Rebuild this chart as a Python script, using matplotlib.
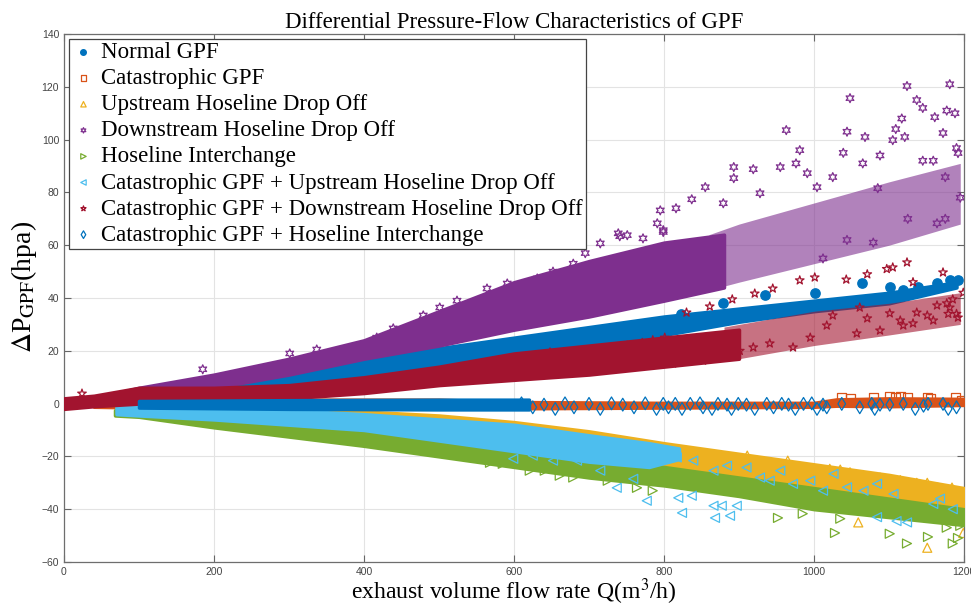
import numpy as np
import matplotlib.pyplot as plt

# Serif text like the MATLAB export (Times-style), mathtext to match
plt.rcParams['font.family'] = ['Liberation Serif', 'DejaVu Serif']
plt.rcParams['mathtext.fontset'] = 'stix'

# --- DATA ---
# dense cores are given as envelopes (x, upper, lower), the looser clouds
# at the right end as a second envelope, sparse markers as single points

# Normal GPF
normal_band_x = [40, 100, 200, 300, 400, 500, 600, 700, 800, 900, 1000, 1100, 1190]
normal_band_hi = [2, 5, 9, 13, 17, 21, 25, 29, 33, 36, 39, 42, 46]
normal_band_lo = [0, 2, 5, 8, 11, 14, 18, 22, 26, 31, 35, 38, 44]
normal_pts_x = [823, 879, 935, 1001, 1064, 1101, 1119, 1139, 1164, 1181, 1192]
normal_pts_y = [34, 38, 41, 42, 45.5, 44, 43, 44, 45.5, 46.7, 47]

# Catastrophic GPF
cat_band_x = [40, 100, 300, 500, 600, 800, 1000, 1030, 1100, 1200]
cat_band_hi = [0.3, 0.8, 1.5, 1.5, 0.6, 0.3, 0.3, 1.6, 2.0, 1.8]
cat_band_lo = [-1.2, -1.5, -0.5, -1.0, -1.8, -1.5, -1.2, -0.8, -1.0, -0.5]
cat_pts_x = [1037, 1048, 1079, 1101, 1108, 1115, 1124, 1151, 1155, 1188, 1196]
cat_pts_y = [2.2, 1.9, 2.4, 2.6, 2.4, 2.6, 2.2, 2.4, 1.9, 2.4, 1.0]

# Upstream Hoseline Drop Off
up_band_x = [70, 100, 200, 300, 400, 500, 600, 700, 800, 900, 1000, 1100, 1200]
up_band_hi = [-1.5, -2, -2, -2.5, -3, -4.5, -7, -10.5, -15, -19, -23, -27, -32]
up_band_lo = [-3, -3, -4, -6, -9, -12, -15, -19, -23, -28, -33, -38, -42]
up_pts_x = [911, 937, 965, 985, 1021, 1035, 1048, 1088, 1101, 1115, 1137, 1141,
            1151, 1165, 1168, 1184, 1192, 1199, 1059, 1151, 1199]
up_pts_y = [-19.7, -22.4, -21.6, -24.2, -24.7, -25, -26, -28, -29, -29, -30, -33,
            -30, -31.8, -35.6, -31.8, -37.5, -34, -45, -54.6, -49]

# Downstream Hoseline Drop Off
down_band_x = [40, 100, 200, 300, 400, 500, 600, 700, 800, 880]
down_band_hi = [2, 6, 11, 17, 24, 35, 46, 54, 61, 64]
down_band_lo = [0, 3, 6, 11, 17, 22, 28, 33, 39, 44]
down_cloud_x = [860, 900, 1000, 1100, 1195]
down_cloud_hi = [64, 68, 76, 84, 91]
down_cloud_lo = [43, 46, 53, 60, 68]
down_pts_x = [1124, 1181, 1048, 1137, 963, 1044, 1068, 1121, 1145, 1161, 1177, 1188,
              981, 893, 893, 919, 855, 837, 816, 955, 976, 991, 1039, 1105, 1117,
              1109, 1190, 1192, 1172, 1065, 1088, 1085, 1145, 1159, 1175, 1195,
              1025, 1004, 928, 879, 799, 1164, 1175, 1012, 1079, 1125, 1044,
              795, 791, 739, 751, 772, 799, 695, 652, 591, 564, 524, 501, 479,
              439, 417, 715, 631, 679, 741, 301, 185, 337]
down_pts_y = [120.3, 121, 115.7, 115, 103.6, 103, 101, 101, 112, 108.5, 111, 110,
              96, 89.6, 85.4, 88.8, 82, 77.4, 74, 89.6, 91, 87.3, 95, 99.8, 108,
              104, 96.8, 94.9, 102.5, 91, 94, 81.6, 92, 92, 85.8, 78,
              85.8, 82, 79.7, 75.9, 65.7, 68.3, 70, 55, 61, 70, 62,
              73.2, 68.3, 64.5, 63.8, 62.6, 65, 57, 50, 45.5, 43.6, 39, 36.4, 33.4,
              28.5, 25, 60.7, 47.4, 53, 63.4, 19, 13, 20.5]

# Hoseline Interchange
inter_band_x = [68, 100, 200, 300, 400, 500, 600, 700, 800, 900, 1000, 1100, 1200]
inter_band_hi = [-2.5, -3, -6.5, -9, -11, -14, -18, -21, -24, -28, -32, -36, -40]
inter_band_lo = [-4.5, -5, -9, -12.5, -16, -20, -24, -28, -31, -35, -40, -43, -46]
inter_pts_x = [1124, 1152, 1185, 1028, 952, 1101, 1192, 1195, 1177, 985, 1035,
               621, 641, 661, 679, 725, 764, 785, 568, 585]
inter_pts_y = [-53, -50.5, -53, -49, -43.3, -49.3, -50.9, -46.3, -47, -41.7, -43.6,
               -25.4, -25.4, -27.3, -28, -29.2, -31.9, -33, -22.4, -22.8]

# Catastrophic GPF + Upstream Hoseline Drop Off
catup_band_x = [70, 100, 200, 300, 400, 500, 600, 700, 780, 820]
catup_band_hi = [-0.5, -1, -1.5, -2.5, -4, -6, -8, -12, -15, -17]
catup_band_lo = [-4, -4.5, -6, -8, -10, -14, -18, -22, -24, -21]
catup_pts_x = [559, 625, 652, 684, 715, 737, 777, 759, 599,
               824, 868, 888, 866, 877, 837, 819, 897,
               804, 817, 839, 866, 884, 910, 928, 941, 955, 972, 995, 1012, 1026,
               1044, 1066, 1084, 1106, 1124, 1159, 1168, 1185, 1084, 1110]
catup_pts_y = [-14.8, -19.7, -21.6, -21.6, -25.4, -31.9, -36.8, -28.5, -20.9,
               -41.4, -43.3, -42.5, -38.7, -38.7, -34.9, -35.7, -38.7,
               -18.5, -20.4, -21.6, -25.4, -23.5, -24.2, -28, -29.2, -25.4, -30.4,
               -29.2, -33, -26.6, -31.7, -33, -30.4, -34.2, -45, -38, -36, -40,
               -43, -44.5]

# Catastrophic GPF + Downstream Hoseline Drop Off
catdown_band_x = [0, 40, 100, 200, 300, 400, 500, 600, 700, 800, 900]
catdown_band_hi = [2, 3, 6, 6, 7, 10, 14, 19, 22, 25, 28]
catdown_band_lo = [-2, -1, 0, 1, 2, 4, 7, 9, 11, 14, 17]
catdown_cloud_x = [880, 1000, 1100, 1195]
catdown_cloud_hi = [29, 35, 38, 42]
catdown_cloud_lo = [16, 22, 26, 30]
catdown_pts_x = [24, 497, 572, 648, 705, 732, 751, 771, 785, 801,
                 1124, 1105, 1097, 1071, 1043, 1001, 981, 945, 921, 891, 861, 830,
                 1172, 1132, 1199, 1185, 1181, 1190,
                 1061, 1088, 1057, 1115, 1119, 1151, 1159, 1179, 1192, 1177, 1164,
                 1137, 1025, 1017, 995, 972, 941, 919, 901, 875, 852, 812, 1132,
                 1071, 1101]
catdown_pts_y = [3.8, 11.4, 16, 19.4, 19.4, 21, 22, 23, 24, 25,
                 53.5, 51.6, 51, 49, 47, 47.8, 46.7, 43.6, 41.7, 39.5, 36.8, 34.5,
                 49.7, 46, 42, 39.5, 36.4, 34,
                 36.4, 27.7, 26.6, 31.5, 29.6, 33.4, 31.5, 34, 32.6, 38, 37.2,
                 34.5, 33.4, 29.6, 25, 21.3, 22.8, 21.3, 20, 17.5, 16.3, 15.2, 30.4,
                 32.3, 34.2]

# Catastrophic GPF + Hoseline Interchange
catint_band_x = [100, 300, 500, 620]
catint_band_hi = [1.0, 1.3, 1.5, 1.5]
catint_band_lo = [-1.5, -2.0, -2.2, -2.2]
catint_pts_x = [610, 625, 640, 655, 668, 680, 700, 715, 730, 745, 760, 775, 790,
                799, 806, 815, 824, 835, 848, 852, 864, 872, 884, 890, 899, 910, 921,
                937, 946, 957, 966, 975, 986, 997, 1004, 1012, 1017, 1037, 1061,
                1077, 1081, 1088, 1101, 1119, 1135, 1146, 1152, 1172, 1179, 1190]
catint_pts_y = [0.1, -1.4, -0.4, -2.0, 0.1, -1.4, -0.1, -2.0, 0.1, -0.4, -1.4, 0.1, -2.0,
                -0.1, -1.4, -0.1, -2.0, -0.1, 0.1, -1.4, -2.0, -0.1, -0.4, -2.0, -0.1,
                -0.4, -2.0, -0.1, -1.4, -0.1, -0.4, -2.0, -0.1, 0.1, -2.0, -0.4, -1.4,
                -0.1, -1.4, -0.1, -2.0, -0.4, -0.4, -0.1, -2.0, -0.8, -0.1, -0.1,
                -2.0, -1.4]

labels = ['Normal GPF', 'Catastrophic GPF', 'Upstream Hoseline Drop Off',
          'Downstream Hoseline Drop Off', 'Hoseline Interchange',
          'Catastrophic GPF + Upstream Hoseline Drop Off',
          'Catastrophic GPF + Downstream Hoseline Drop Off',
          'Catastrophic GPF + Hoseline Interchange']

x_ticks = [0, 200, 400, 600, 800, 1000, 1200]
y_ticks = [-60, -40, -20, 0, 20, 40, 60, 80, 100, 120, 140]

# --- STYLE (MATLAB default colour order) ---
series = [
    # band, cloud (or None), points, colour, marker, filled
    ((normal_band_x, normal_band_hi, normal_band_lo), None,
     (normal_pts_x, normal_pts_y), '#0072BD', 'o', True),
    ((cat_band_x, cat_band_hi, cat_band_lo), None,
     (cat_pts_x, cat_pts_y), '#D95319', 's', False),
    ((up_band_x, up_band_hi, up_band_lo), None,
     (up_pts_x, up_pts_y), '#EDB120', '^', False),
    ((down_band_x, down_band_hi, down_band_lo), (down_cloud_x, down_cloud_hi, down_cloud_lo),
     (down_pts_x, down_pts_y), '#7E2F8E', (6, 1, 0), False),
    ((inter_band_x, inter_band_hi, inter_band_lo), None,
     (inter_pts_x, inter_pts_y), '#77AC30', '>', False),
    ((catup_band_x, catup_band_hi, catup_band_lo), None,
     (catup_pts_x, catup_pts_y), '#4DBEEE', '<', False),
    ((catdown_band_x, catdown_band_hi, catdown_band_lo), (catdown_cloud_x, catdown_cloud_hi, catdown_cloud_lo),
     (catdown_pts_x, catdown_pts_y), '#A2142F', '*', False),
    ((catint_band_x, catint_band_hi, catint_band_lo), None,
     (catint_pts_x, catint_pts_y), '#0072BD', 'd', False),
]

fig = plt.figure(figsize=(9.71, 6.12), dpi=100)
ax = fig.add_axes([0.0659, 0.0817, 0.9269, 0.8627])

handles = []
for i, (band, cloud, pts, col, mk, filled) in enumerate(series):
    z = 2 + i
    bx, bhi, blo = band
    # edge line widens the core a little, like the marker size does
    ax.fill_between(bx, blo, bhi, color=col, linewidth=2.5, edgecolor=col, zorder=z)
    if cloud is not None:
        cx, chi, clo = cloud
        ax.fill_between(cx, clo, chi, color=col, alpha=0.6, linewidth=0, zorder=z)
    px, py = pts
    if filled:
        h = ax.scatter(px, py, s=45, marker=mk, color=col, zorder=z, label=labels[i])
    else:
        h = ax.scatter(px, py, s=42, marker=mk, facecolors='none', edgecolors=col,
                       linewidths=0.9, zorder=z, label=labels[i])
    handles.append(h)

ax.set_xlim(0, 1200)
ax.set_ylim(-60, 140)
ax.set_xticks(x_ticks)
ax.set_yticks(y_ticks)
ax.grid(True, color='#e3e3e3', linewidth=0.8, zorder=0)
ax.set_axisbelow(True)
ax.tick_params(direction='in', top=True, right=True, length=5, width=0.8,
               color='#666666', labelsize=7.5, labelcolor='#444444')
for lbl in ax.get_xticklabels() + ax.get_yticklabels():
    lbl.set_fontfamily('Liberation Sans')
for sp in ax.spines.values():
    sp.set_color('#6e6e6e')
    sp.set_linewidth(0.9)

ax.set_title('Differential Pressure-Flow Characteristics of GPF', fontsize=16.5, pad=4)
ax.set_xlabel('exhaust volume flow rate Q(m$^3$/h)', fontsize=17, labelpad=0)
ax.set_ylabel(r'$\Delta$P$_{\rm GPF}$(hpa)', fontsize=20)
ax.yaxis.set_label_coords(-0.028, 0.52)

leg = ax.legend(handles=handles, loc='upper left', fontsize=16.5, markerscale=0.6,
                handlelength=1.0, handletextpad=0.25, labelspacing=0.22,
                borderpad=0.15, borderaxespad=0.2, fancybox=False, framealpha=1,
                edgecolor='#444444')
leg.get_frame().set_linewidth(0.9)
leg.set_zorder(20)

fig.savefig('out.png', dpi=100)
